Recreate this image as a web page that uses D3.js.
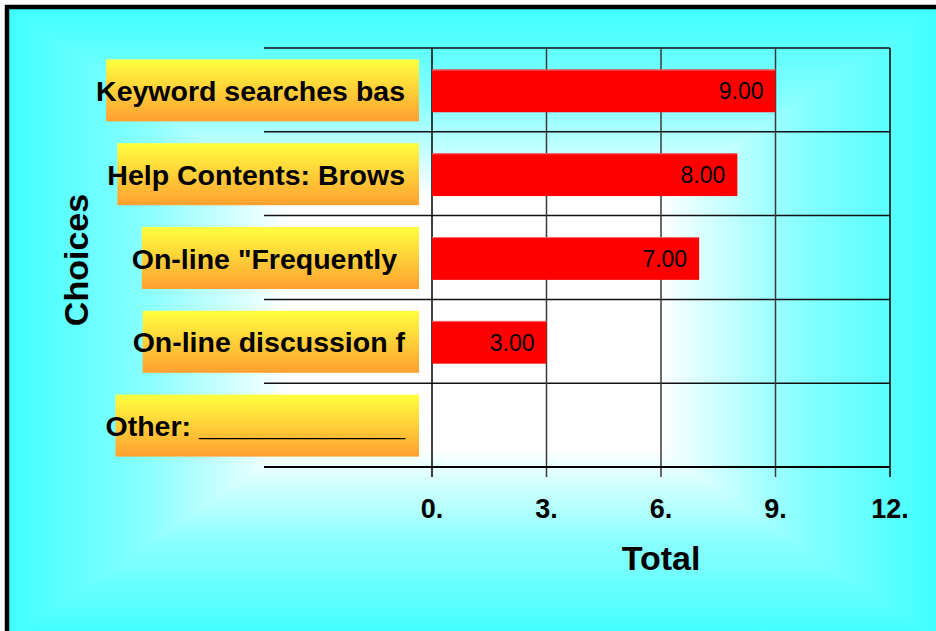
<!DOCTYPE html>
<html>
<head>
<meta charset="utf-8">
<script src="https://cdn.jsdelivr.net/npm/d3@7"></script>
<style>
  html, body { margin: 0; padding: 0; background: #fff; }
  svg { display: block; }
  text { font-family: "Liberation Sans", Arial, Helvetica, sans-serif; }
</style>
</head>
<body>
<svg id="chart" width="936" height="631"></svg>
<script>
// ---- data ----
const categories = ["Keyword searches bas", "Help Contents: Brows", "On-line \"Frequently ", "On-line discussion f", "Other: _____________"];
const values = [9, 8, 7, 3, 0];
const valueLabels = ["9.00", "8.00", "7.00", "3.00", ""];
const tickValues = [0, 3, 6, 9, 12];
const tickLabels = ["0.", "3.", "6.", "9.", "12."];
const xTitle = "Total";
const yTitle = "Choices";

const W = 936, H = 631;
const svg = d3.select("#chart");
const defs = svg.append("defs");

// ---- background: rectangular "from center" gradient inside a frame ----
const bg = {x0: 9, y0: 9, x1: 937, y1: 637};
const cx = (bg.x0 + bg.x1) / 2, cy = (bg.y0 + bg.y1) / 2;
function stops(g) {
  g.append("stop").attr("offset", 0).attr("stop-color", "#40ffff");
  g.append("stop").attr("offset", 0.3).attr("stop-color", "#8affff");
  g.append("stop").attr("offset", 0.6).attr("stop-color", "#ffffff");
  g.append("stop").attr("offset", 1).attr("stop-color", "#ffffff");
}
const gv = defs.append("linearGradient").attr("id", "gv").attr("gradientUnits", "userSpaceOnUse")
  .attr("x1", cx).attr("y1", bg.y0).attr("x2", cx).attr("y2", cy).attr("spreadMethod", "reflect");
stops(gv);
const gh = defs.append("linearGradient").attr("id", "gh").attr("gradientUnits", "userSpaceOnUse")
  .attr("x1", bg.x0).attr("y1", cy).attr("x2", cx).attr("y2", cy).attr("spreadMethod", "reflect");
stops(gh);
svg.append("rect").attr("x", bg.x0).attr("y", bg.y0).attr("width", bg.x1 - bg.x0).attr("height", bg.y1 - bg.y0)
  .attr("fill", "url(#gv)");
svg.append("path").attr("fill", "url(#gh)")
  .attr("d", `M${bg.x0},${bg.y0}L${cx},${cy}L${bg.x0},${bg.y1}Z M${bg.x1},${bg.y0}L${cx},${cy}L${bg.x1},${bg.y1}Z`);
svg.append("rect").attr("x", 7).attr("y", 7).attr("width", 945).attr("height", 645)
  .attr("fill", "none").attr("stroke", "#000").attr("stroke-width", 4.5);

// ---- scales ----
const plot = {left: 432, right: 890, top: 48, bottom: 467, lineLeft: 264};
const x = d3.scaleLinear().domain([0, 12]).range([plot.left, plot.right]);
const y = d3.scaleBand().domain(categories).range([plot.top, plot.bottom]).padding(0);
const bw = y.bandwidth();

// ---- grid ----
const grid = svg.append("g");
const boundaries = categories.map(c => y(c));
grid.selectAll("line.h").data(boundaries).join("line")
  .attr("x1", plot.lineLeft).attr("x2", plot.right)
  .attr("y1", d => d).attr("y2", d => d)
  .attr("stroke", "#111").attr("stroke-width", 1.5);

// ---- bars ----
const barH = bw * 0.51;
svg.append("g").selectAll("rect").data(categories).join("rect")
  .attr("x", x(0))
  .attr("y", d => y(d) + bw / 2 - barH / 2 + 1)
  .attr("width", (d, i) => x(values[i]) - x(0))
  .attr("height", barH)
  .attr("fill", "#ff0000");
svg.append("g").selectAll("line").data(categories.filter((d, i) => values[i] > 0)).join("line")
  .attr("x1", x(0)).attr("x2", d => x(values[categories.indexOf(d)]))
  .attr("y1", d => y(d) + bw / 2 - barH / 2 + 1.5).attr("y2", d => y(d) + bw / 2 - barH / 2 + 1.5)
  .attr("stroke", "#f07070").attr("stroke-width", 1);

// vertical grid lines + ticks
grid.selectAll("line.v").data(tickValues).join("line")
  .attr("x1", d => x(d)).attr("x2", d => x(d))
  .attr("y1", plot.top).attr("y2", plot.bottom + 10)
  .attr("stroke", d => (d === 0 || d === 12) ? "#000" : "#3a3a3a")
  .attr("stroke-width", 1.5);
svg.append("line").attr("x1", plot.lineLeft).attr("x2", plot.right)
  .attr("y1", plot.bottom).attr("y2", plot.bottom)
  .attr("stroke", "#000").attr("stroke-width", 2);

// value labels
svg.append("g").selectAll("text").data(categories).join("text")
  .attr("x", (d, i) => x(values[i]) - 12)
  .attr("y", d => y(d) + bw / 2 + 9.5)
  .attr("text-anchor", "end")
  .attr("font-size", 23)
  .attr("fill", "#000")
  .text((d, i) => valueLabels[i]);

// ---- category labels with boxes ----
const lg = defs.append("linearGradient").attr("id", "lbl").attr("x1", 0).attr("y1", 0).attr("x2", 0).attr("y2", 1);
lg.append("stop").attr("offset", 0).attr("stop-color", "#ffff40");
lg.append("stop").attr("offset", 1).attr("stop-color", "#ffa030");
const labG = svg.append("g");
const labelEnd = 405, boxRight = 419, boxH = 62;
categories.forEach((c, i) => {
  const g = labG.append("g");
  const box = g.append("rect").attr("fill", "url(#lbl)");
  const t = g.append("text")
    .attr("x", labelEnd).attr("y", y(c) + bw / 2 + 11)
    .attr("text-anchor", "end")
    .attr("font-size", 28.5).attr("font-weight", "bold")
    .attr("fill", "#000")
    .style("white-space", "pre")
    .attr("xml:space", "preserve")
    .text(c);
  const w = t.node().getComputedTextLength();
  const left = labelEnd - w + 10;
  box.attr("x", left).attr("y", y(c) + bw / 2 - boxH / 2 + 0.5)
    .attr("width", boxRight - left).attr("height", boxH);
});

// ---- tick labels ----
svg.append("g").selectAll("text").data(tickValues).join("text")
  .attr("x", d => x(d)).attr("y", 518)
  .attr("text-anchor", "middle")
  .attr("font-size", 27).attr("font-weight", "bold")
  .text((d, i) => tickLabels[i]);

// ---- axis titles ----
svg.append("text").attr("x", (plot.left + plot.right) / 2).attr("y", 570)
  .attr("text-anchor", "middle").attr("font-size", 34).attr("font-weight", "bold")
  .text(xTitle);
svg.append("text").attr("transform", `translate(88,${260}) rotate(-90)`)
  .attr("text-anchor", "middle").attr("font-size", 34).attr("font-weight", "bold")
  .text(yTitle);
</script>
</body>
</html>
